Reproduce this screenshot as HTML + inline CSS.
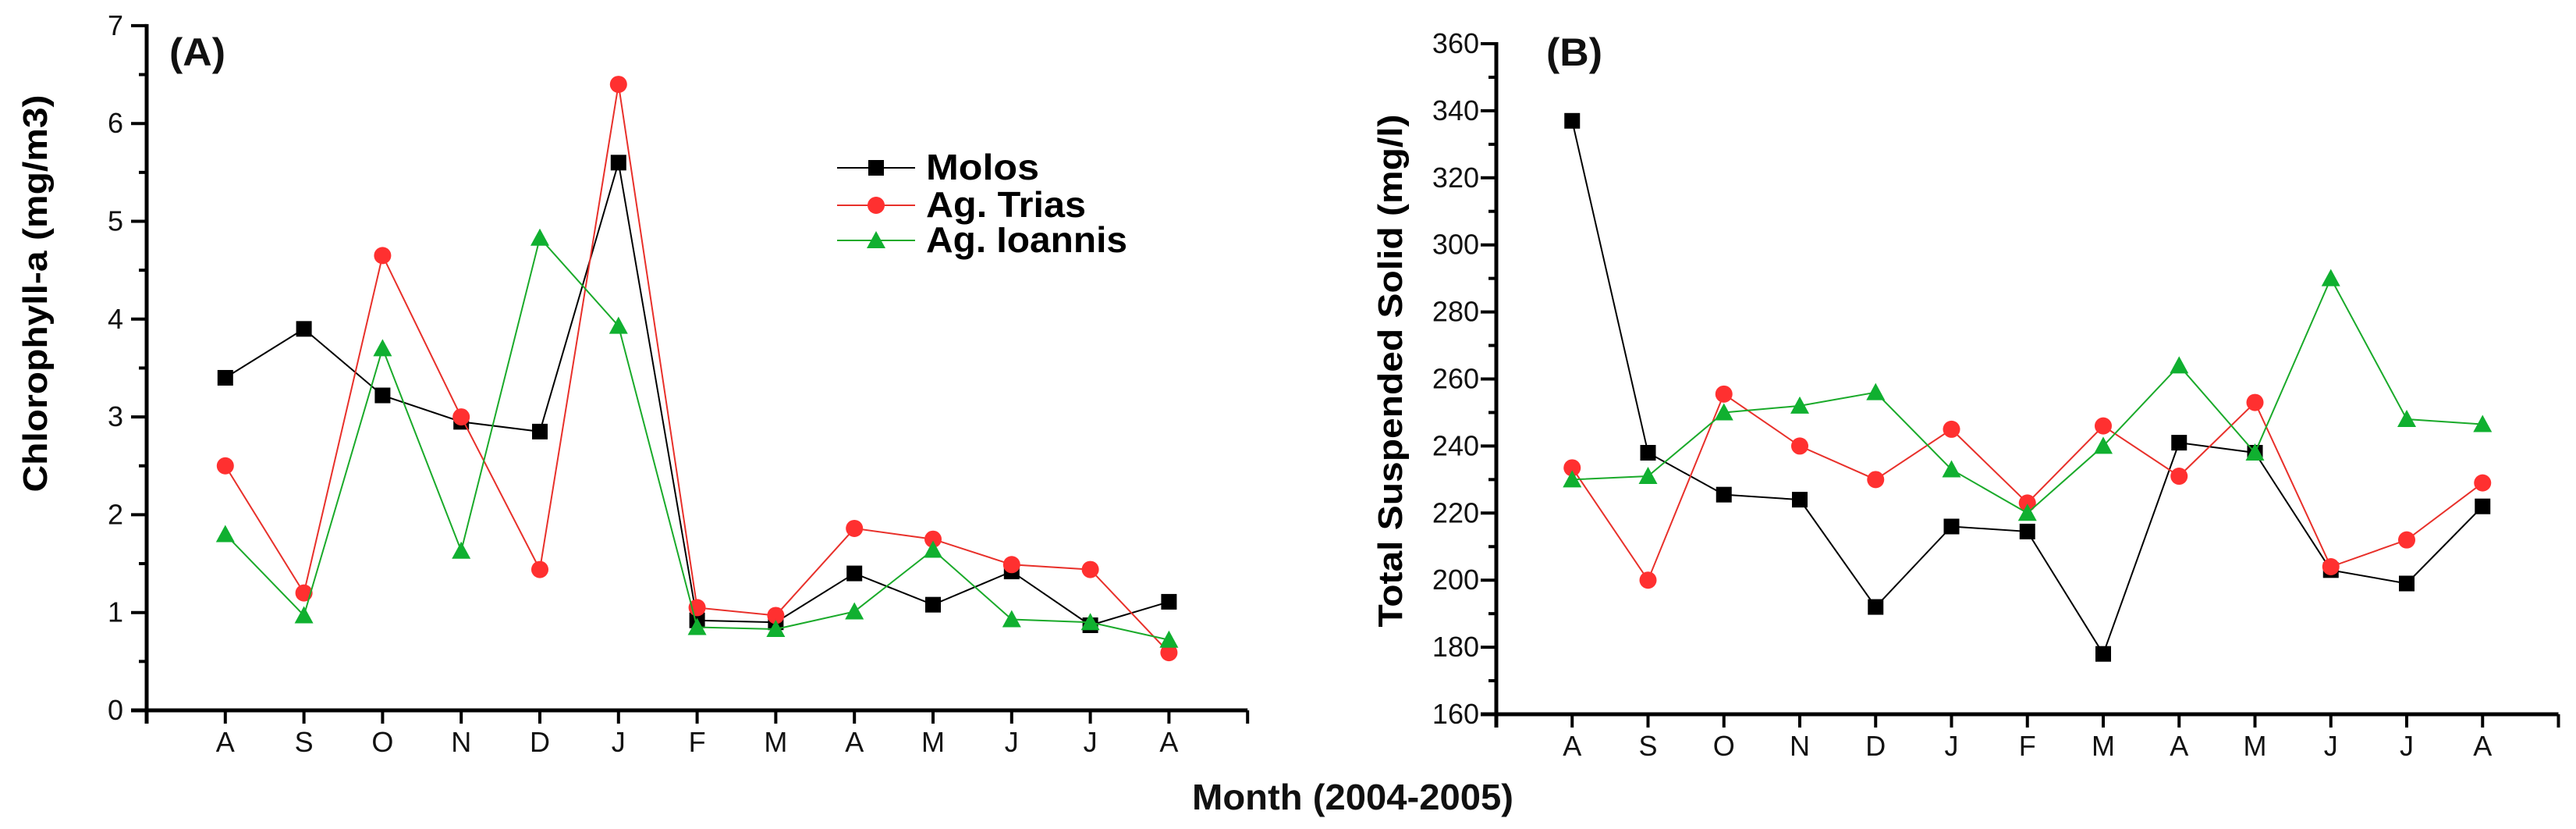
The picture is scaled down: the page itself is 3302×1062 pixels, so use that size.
<!DOCTYPE html>
<html><head><meta charset="utf-8"><style>
html,body{margin:0;padding:0;background:#fff;}
svg{display:block;font-family:"Liberation Sans",Arial,sans-serif;}
</style></head><body>
<svg id="chart" width="3302" height="1062" viewBox="0 0 3302 1062" xmlns="http://www.w3.org/2000/svg"></svg>
<script>
const months = ["A","S","O","N","D","J","F","M","A","M","J","J","A"];
const chlMolos = [3.4,3.9,3.22,2.95,2.85,5.6,0.92,0.9,1.4,1.08,1.42,0.87,1.11];
const chlTrias = [2.5,1.2,4.65,3.0,1.44,6.4,1.05,0.97,1.86,1.75,1.49,1.44,0.59];
const chlIoannis = [1.8,0.97,3.7,1.63,4.83,3.93,0.85,0.83,1.01,1.64,0.93,0.9,0.72];
const tssMolos = [337,238,225.5,224,192,216,214.5,178,241,238,203,199,222];
const tssTrias = [233.5,200,255.5,240,230,245,223,246,231,253,204,212,229];
const tssIoannis = [230,231,250,252,256,233,220,240,264,238,290,248,246.5];
const chlTicks = [0,1,2,3,4,5,6,7];
const tssTicks = [160,180,200,220,240,260,280,300,320,340,360];
const seriesNames = ["Molos","Ag. Trias","Ag. Ioannis"];

const NS="http://www.w3.org/2000/svg";
const svg=document.getElementById('chart');
function mk(tag,attrs,parent){const e=document.createElementNS(NS,tag);for(const k in attrs)e.setAttribute(k,attrs[k]);(parent||svg).appendChild(e);return e;}
const colors=["#000","#e8302a","#1aaa2a"];
const markerFill=["#000","#ff3030","#10b030"];

function marker(kind,x,y,g){
  let e;
  if(kind===0){e=mk('rect',{x:x-10,y:y-10,width:20,height:20,fill:markerFill[0]},g);}
  else if(kind===1){e=mk('ellipse',{cx:x,cy:y,rx:11,ry:11,fill:markerFill[1]},g);}
  else {e=mk('polygon',{points:`${x},${y-12} ${x+12},${y+10} ${x-12},${y+10}`,fill:markerFill[2]},g);}
  return e;
}

function panel(opt){
  const g=mk('g',{});
  
  
  const X=i=>opt.x0+(i+1)*opt.step;
  const Y=v=>opt.yBase-(v-opt.vmin)*opt.unit;
  const xEnd=X(13);
  const ya=mk('line',{x1:opt.x0,y1:Y(opt.vmax)-2,x2:opt.x0,y2:opt.yBase+17,stroke:'#000','stroke-width':5},g);
  
  const xa=mk('line',{x1:opt.x0-20,y1:opt.yBase,x2:xEnd,y2:opt.yBase,stroke:'#000','stroke-width':5},g);
  
  opt.ticks.forEach((t,k)=>{
    mk('line',{x1:opt.x0-20,y1:Y(t),x2:opt.x0,y2:Y(t),stroke:'#000','stroke-width':4},g);
    const tx=mk('text',{x:opt.x0-opt.labGap,y:Y(t)+12,'font-size':36,'text-anchor':'end',fill:'#111'},g);
    tx.textContent=t;
    
    if(k<opt.ticks.length-1){
      const m=(t+opt.ticks[k+1])/2;
      mk('line',{x1:opt.x0-10,y1:Y(m),x2:opt.x0,y2:Y(m),stroke:'#000','stroke-width':4},g);
    }
  });
  for(let i=-1;i<=13;i++){
    mk('line',{x1:X(i),y1:opt.yBase,x2:X(i),y2:opt.yBase+17,stroke:'#000','stroke-width':4},g);
  }
  months.forEach((m,i)=>{
    const tx=mk('text',{x:X(i),y:opt.yBase+53,'font-size':36,'text-anchor':'middle',fill:'#111'},g);
    tx.textContent=m;
    
  });
  opt.series.forEach((arr,s)=>{
    const sg=mk('g',{},g);
    
    
    const pts=arr.map((v,i)=>X(i)+','+Y(v)).join(' ');
    mk('polyline',{points:pts,fill:'none',stroke:colors[s],'stroke-width':2},sg);
    arr.forEach((v,i)=>{const e=marker(s,X(i),Y(v),sg);
      
      });
  });
  const yt=mk('text',{x:0,y:0,'font-size':44,'font-weight':'bold','text-anchor':'middle',fill:'#000',
    transform:`translate(${opt.titleX},${opt.titleY}) rotate(-90)`,textLength:opt.titleLen,lengthAdjust:'spacingAndGlyphs'},g);
  yt.textContent=opt.title;
  
  const lb=mk('text',{x:opt.labX,y:84,'font-size':50,'font-weight':'bold',fill:'#111',textLength:72,lengthAdjust:'spacingAndGlyphs'},g);
  lb.textContent=opt.label;
  
}

panel({name:'panel-a-chlorophyll',x0:188,step:100.8,yBase:910,vmin:0,vmax:7,unit:125.3,ticks:chlTicks,
  series:[chlMolos,chlTrias,chlIoannis],labGap:30,title:'Chlorophyll-a (mg/m3)',titleX:60,titleY:376,titleLen:509,label:'(A)',labX:217});
panel({name:'panel-b-tss',x0:1918,step:97.25,yBase:915,vmin:160,vmax:360,unit:85.9/20,ticks:tssTicks,
  series:[tssMolos,tssTrias,tssIoannis],labGap:22,title:'Total Suspended Solid (mg/l)',titleX:1797,titleY:475,titleLen:657,label:'(B)',labX:1982});

const lg=mk('g',{});


const legY=[215,263,308];
const legLen=[145,205,258];
seriesNames.forEach((n,s)=>{
  const eg=mk('g',{},lg);
  
  
  mk('line',{x1:1073,y1:legY[s],x2:1173,y2:legY[s],stroke:colors[s],'stroke-width':2},eg);
  marker(s,1123,legY[s],eg);
  const t=mk('text',{x:1187,y:legY[s]+15,'font-size':46,'font-weight':'bold',fill:'#000',textLength:legLen[s],lengthAdjust:'spacingAndGlyphs'},eg);
  t.textContent=n;
});
const xt=mk('text',{x:1528,y:1037,'font-size':46,'font-weight':'bold',fill:'#111',textLength:412,lengthAdjust:'spacingAndGlyphs'});
xt.textContent='Month (2004-2005)';


</script>
</body></html>
